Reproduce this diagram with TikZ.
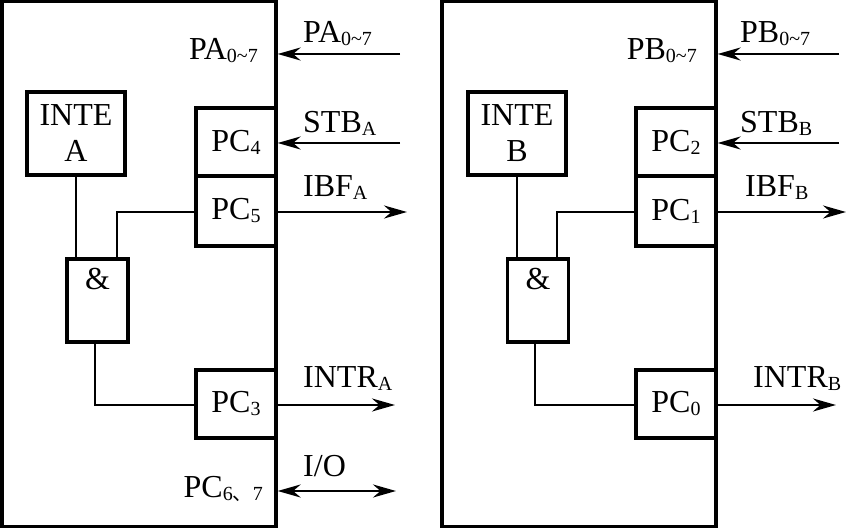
\documentclass[tikz,border=0pt]{standalone}
\usepackage{fontspec}
\setmainfont{Liberation Serif}
\newfontfamily\cjk{Noto Sans CJK SC}
\usetikzlibrary{arrows.meta}
\newcommand{\sbs}[1]{\raisebox{-3pt}{\fontsize{20}{20}\selectfont #1}}
\begin{document}
\begin{tikzpicture}[x=1pt,y=-1pt,
  lbl/.style={font=\fontsize{32}{34}\selectfont, inner sep=0pt},
  frame/.style={draw, line width=3.2pt, inner sep=0pt},
  box/.style={draw, line width=3.2pt, inner sep=0pt, font=\fontsize{32}{36}\selectfont, align=center},
  wire/.style={line width=2.2pt},
  tipA/.tip={Stealth[length=23pt,width=13pt]},
  arr/.style={line width=2.3pt, -tipA},
  darr/.style={line width=2.3pt, tipA-tipA}]
\useasboundingbox (0,0) rectangle (847,529);

% ---------------- Port A ----------------
\node[frame, minimum width=274pt, minimum height=525pt] (frameA) at (139,264) {};
\node[box, minimum width=98pt, minimum height=83pt] (inteA) at (76,133.5) {INTE\\A};
\node[box, minimum width=80pt, minimum height=68pt] (pc4A) at (236,142) {PC\sbs{4}};
\node[box, minimum width=80pt, minimum height=70pt] (pc5A) at (236,211) {PC\sbs{5}};
\node[box, minimum width=61pt, text height=31pt, text depth=52pt] (andA) at (97.5,300.5) {\&};
\node[box, minimum width=80pt, minimum height=68pt] (pc3A) at (236,404) {PC\sbs{3}};

\coordinate (jA1) at (117,212);
\coordinate (jA2) at (95,405);
\draw[wire] (inteA.south) -- (inteA.south |- andA.north);
\draw[wire] (andA.north -| jA1) -- (jA1) -- (jA1 -| pc5A.west);
\draw[wire] (andA.south -| jA2) -- (jA2) -- (jA2 -| pc3A.west);

\coordinate (paAin) at (400,54);
\coordinate (stbAin) at (400,143);
\coordinate (ibfAout) at (407,212);
\coordinate (intrAout) at (395,405);
\coordinate (ioA) at (396,491);
\draw[arr] (paAin) -- (paAin -| frameA.east);
\draw[arr] (stbAin) -- (stbAin -| pc4A.east);
\draw[arr] (ibfAout -| pc5A.east) -- (ibfAout);
\draw[arr] (intrAout -| pc3A.east) -- (intrAout);
\draw[darr] (ioA -| frameA.east) -- (ioA);

\node[lbl, anchor=base west] (lpaoA) at (303,43) {PA\sbs{0\textasciitilde 7}};
\node[lbl, anchor=base east] (lpaiA) at (258,60) {PA\sbs{0\textasciitilde 7}};
\node[lbl, anchor=base west] (lstbA) at (303,133) {STB\sbs{A}};
\node[lbl, anchor=base west] (libfA) at (303,197) {IBF\sbs{A}};
\node[lbl, anchor=base west] (lintrA) at (303,388) {INTR\sbs{A}};
\node[lbl, anchor=base west] (lioA) at (303,477) {I/O};
\node[lbl, anchor=base east] (lpc67A) at (263,497) {PC\sbs{6{\cjk 、}7}};

% ---------------- Port B ----------------
\node[frame, minimum width=274pt, minimum height=525pt] (frameB) at (579,264) {};
\node[box, minimum width=98pt, minimum height=83pt] (inteB) at (517,133.5) {INTE\\B};
\node[box, minimum width=80pt, minimum height=68pt] (pc2B) at (676,142) {PC\sbs{2}};
\node[box, minimum width=80pt, minimum height=70pt] (pc1B) at (676,211) {PC\sbs{1}};
\node[box, minimum width=61pt, text height=31pt, text depth=52pt] (andB) at (538,300.5) {\&};
\node[box, minimum width=80pt, minimum height=68pt] (pc0B) at (676,404) {PC\sbs{0}};

\coordinate (jB1) at (557,212);
\coordinate (jB2) at (535,405);
\draw[wire] (inteB.south) -- (inteB.south |- andB.north);
\draw[wire] (andB.north -| jB1) -- (jB1) -- (jB1 -| pc1B.west);
\draw[wire] (andB.south -| jB2) -- (jB2) -- (jB2 -| pc0B.west);

\coordinate (pbBin) at (839,54);
\coordinate (stbBin) at (839,143);
\coordinate (ibfBout) at (846,212);
\coordinate (intrBout) at (836,405);
\draw[arr] (pbBin) -- (pbBin -| frameB.east);
\draw[arr] (stbBin) -- (stbBin -| pc2B.east);
\draw[arr] (ibfBout -| pc1B.east) -- (ibfBout);
\draw[arr] (intrBout -| pc0B.east) -- (intrBout);

\node[lbl, anchor=base west] (lpboB) at (740,43) {PB\sbs{0\textasciitilde 7}};
\node[lbl, anchor=base east] (lpbiB) at (697,60) {PB\sbs{0\textasciitilde 7}};
\node[lbl, anchor=base west] (lstbB) at (740,133) {STB\sbs{B}};
\node[lbl, anchor=base west] (libfB) at (745,197) {IBF\sbs{B}};
\node[lbl, anchor=base west] (lintrB) at (753,388) {INTR\sbs{B}};
\end{tikzpicture}
\end{document}
